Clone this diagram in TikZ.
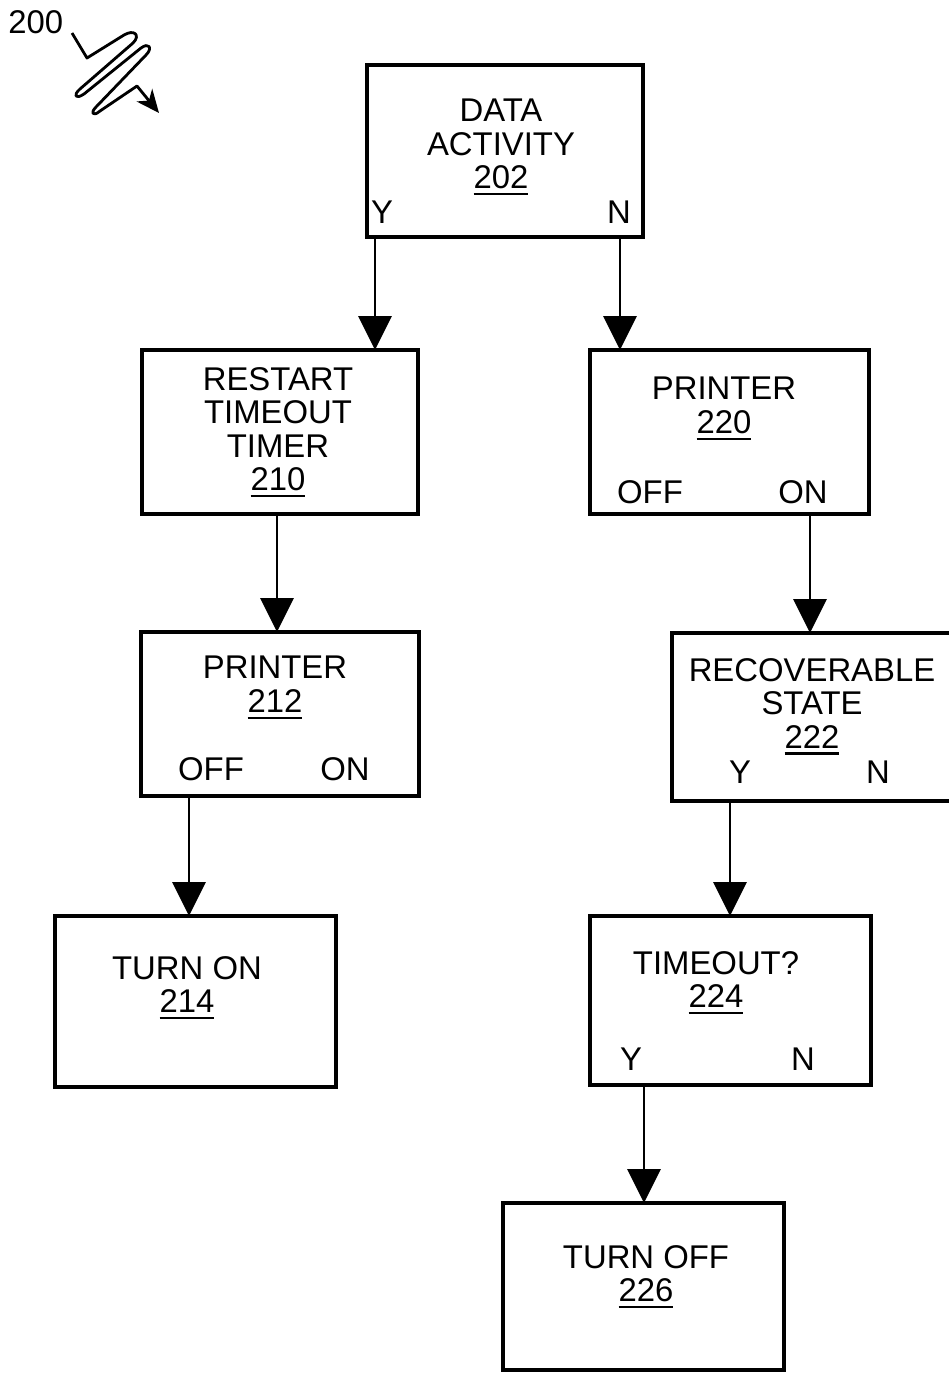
\documentclass[tikz,border=0pt]{standalone}
\usepackage{fontspec}
\setmainfont{Liberation Sans}
\usetikzlibrary{arrows.meta}
\newcommand{\refnum}[1]{\setbox0\hbox{#1}\rlap{\rule[-0.2em]{\wd0}{0.07em}}\box0}

\begin{document}
\begin{tikzpicture}[x=0.02cm,y=-0.02cm]
		\tikzset{flowbox/.style={draw,line width=2.6pt,inner sep=0pt,outer sep=0pt,anchor=north west},
			flowtext/.style={font=\fontsize{18.7}{19}\selectfont,align=center,inner sep=0pt,anchor=north},
			branch/.style={font=\fontsize{18.7}{19}\selectfont,inner sep=0pt,anchor=base},
			flowarrow/.style={line width=1.7pt,-{Triangle[length=0.68cm,width=0.66cm]}}};
		\useasboundingbox (0,0) rectangle (949,1374);
		
		\node[flowbox,minimum width=5.52cm,minimum height=3.44cm] (activity) at (367,65) {};
		\node[flowbox,minimum width=5.52cm,minimum height=3.28cm] (restart) at (142,350) {};
		\node[flowbox,minimum width=5.58cm,minimum height=3.28cm] (printerA) at (590,350) {};
		\node[flowbox,minimum width=5.56cm,minimum height=3.28cm] (printerB) at (141,632) {};
		\node[flowbox,minimum width=5.64cm,minimum height=3.36cm] (recov) at (672,633) {};
		\node[flowbox,minimum width=5.62cm,minimum height=3.42cm] (turnon) at (55,916) {};
		\node[flowbox,minimum width=5.62cm,minimum height=3.38cm] (timeout) at (590,916) {};
		\node[flowbox,minimum width=5.62cm,minimum height=3.34cm] (turnoff) at (503,1203) {};
		
		\node[flowtext] (activitytxt) at (501,99) {DATA\\ACTIVITY\\\refnum{202}};
		\node[branch] (activityY) at (382,223) {Y};
		\node[branch] (activityN) at (619,223) {N};
		\node[flowtext] (restarttxt) at (278,367) {RESTART\\TIMEOUT\\TIMER\\\refnum{210}};
		\node[flowtext] (printerAtxt) at (724,377) {PRINTER\\\refnum{220}};
		\node[branch] (printerAoff) at (650,503) {OFF};
		\node[branch] (printerAon) at (803,503) {ON};
		\node[flowtext] (printerBtxt) at (275,656) {PRINTER\\\refnum{212}};
		\node[branch] (printerBoff) at (211,780) {OFF};
		\node[branch] (printerBon) at (345,780) {ON};
		\node[flowtext] (recovtxt) at (812,658) {RECOVERABLE\\STATE\\\refnum{222}};
		\node[branch] (recovY) at (740,783) {Y};
		\node[branch] (recovN) at (878,783) {N};
		\node[flowtext] (turnontxt) at (187,956) {TURN ON\\\refnum{214}};
		\node[flowtext] (timeouttxt) at (716,951) {TIMEOUT?\\\refnum{224}};
		\node[branch] (timeoutY) at (631,1070) {Y};
		\node[branch] (timeoutN) at (803,1070) {N};
		\node[flowtext] (turnofftxt) at (646,1245) {TURN OFF\\\refnum{226}};
		
		\draw[flowarrow] (activity.south -| 375,0) -- (restart.north -| 375,0);
		\draw[flowarrow] (activity.south -| 620,0) -- (printerA.north -| 620,0);
		\draw[flowarrow] (restart.south -| 277,0) -- (printerB.north -| 277,0);
		\draw[flowarrow] (printerA.south -| 810,0) -- (recov.north -| 810,0);
		\draw[flowarrow] (printerB.south -| 189,0) -- (turnon.north -| 189,0);
		\draw[flowarrow] (recov.south -| 730,0) -- (timeout.north -| 730,0);
		\draw[flowarrow] (timeout.south -| 644,0) -- (turnoff.north -| 644,0);
		
		\node[branch,anchor=base west] (fignum) at (8,33) {200};
		\draw[line width=1.6pt,line join=round,-{Stealth[length=0.46cm,width=0.4cm,inset=0.14cm]}] (72,33) -- (87,58) -- (124,35) .. controls (134,29) and (141,35) .. (133,43) -- (80,89) .. controls (73,95) and (75,100) .. (84,94) -- (141,48) .. controls (149,42) and (153,48) .. (146,55) -- (96,107) .. controls (90,113) and (93,117) .. (100,111) -- (137,86) -- (159,113);
	\end{tikzpicture}
\end{document}
